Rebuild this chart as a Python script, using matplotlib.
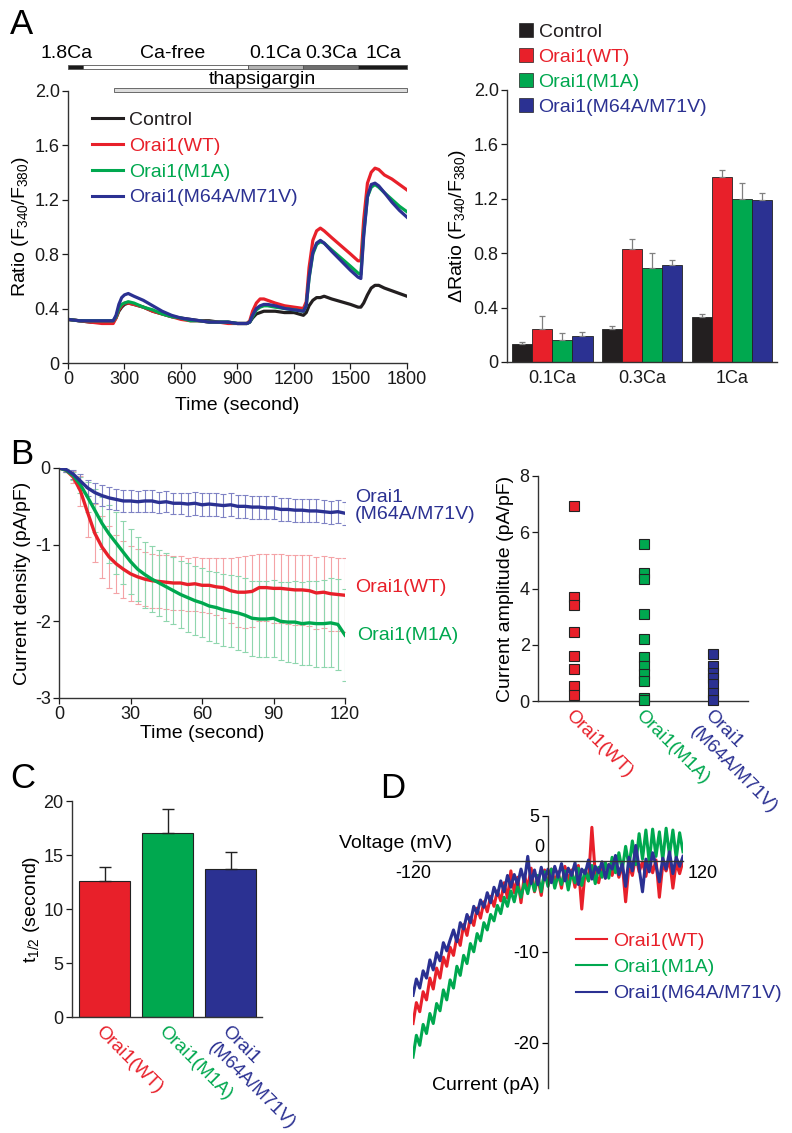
import numpy as np
import matplotlib
matplotlib.use("Agg")
import matplotlib.pyplot as plt
from matplotlib.patches import Patch
from matplotlib.lines import Line2D
from matplotlib.transforms import blended_transform_factory, ScaledTranslation

plt.rcParams['font.family'] = ['Liberation Sans', 'DejaVu Sans']
plt.rcParams['mathtext.default'] = 'regular'
plt.rcParams['axes.unicode_minus'] = False

W, H = 792, 1133

# colours
BLACK = '#231F20'
RED = '#E8202A'
GREEN = '#00A84F'
BLUE = '#2B3192'

groups = ['Control', 'Orai1(WT)', 'Orai1(M1A)', 'Orai1(M64A/M71V)']

# ---------------- panel A, traces ----------------
t_a = [0, 60, 120, 180, 240, 255, 270, 285, 300, 320, 350, 400, 450, 500, 550, 600,
       650, 700, 750, 800, 850, 900, 950, 965, 980, 1000, 1020, 1040, 1060, 1100,
       1150, 1200, 1250, 1265, 1280, 1300, 1320, 1340, 1360, 1400, 1450, 1500, 1540,
       1555, 1570, 1590, 1610, 1630, 1650, 1680, 1720, 1760, 1800]
ratio_ctrl = [0.32, 0.31, 0.30, 0.30, 0.30, 0.33, 0.38, 0.41, 0.43, 0.44, 0.43, 0.41, 0.38, 0.36,
              0.34, 0.33, 0.32, 0.31, 0.31, 0.30, 0.30, 0.29, 0.29, 0.30, 0.33, 0.36, 0.37, 0.38,
              0.38, 0.38, 0.37, 0.37, 0.35, 0.37, 0.42, 0.46, 0.48, 0.48, 0.49, 0.47, 0.45, 0.43,
              0.41, 0.41, 0.44, 0.50, 0.55, 0.57, 0.57, 0.55, 0.53, 0.51, 0.49]
ratio_wt = [0.32, 0.31, 0.30, 0.29, 0.29, 0.33, 0.39, 0.42, 0.44, 0.44, 0.43, 0.41, 0.38, 0.36,
            0.34, 0.32, 0.31, 0.31, 0.30, 0.30, 0.29, 0.29, 0.29, 0.31, 0.38, 0.44, 0.47, 0.47,
            0.46, 0.44, 0.42, 0.41, 0.40, 0.45, 0.70, 0.90, 0.97, 0.99, 0.97, 0.92, 0.86, 0.80,
            0.75, 0.75, 1.05, 1.32, 1.40, 1.43, 1.42, 1.38, 1.35, 1.31, 1.27]
ratio_m1a = [0.32, 0.31, 0.31, 0.31, 0.31, 0.34, 0.40, 0.43, 0.44, 0.45, 0.44, 0.41, 0.39, 0.36,
             0.34, 0.33, 0.31, 0.31, 0.30, 0.30, 0.30, 0.29, 0.29, 0.30, 0.34, 0.39, 0.41, 0.42,
             0.42, 0.41, 0.40, 0.39, 0.38, 0.42, 0.62, 0.80, 0.87, 0.89, 0.88, 0.83, 0.77, 0.71,
             0.66, 0.65, 0.95, 1.22, 1.29, 1.31, 1.29, 1.25, 1.20, 1.15, 1.11]
ratio_m64 = [0.32, 0.31, 0.31, 0.31, 0.31, 0.35, 0.43, 0.48, 0.50, 0.51, 0.49, 0.46, 0.42, 0.38,
             0.35, 0.33, 0.32, 0.31, 0.30, 0.30, 0.30, 0.29, 0.29, 0.30, 0.35, 0.40, 0.42, 0.43,
             0.43, 0.42, 0.40, 0.39, 0.38, 0.42, 0.63, 0.81, 0.88, 0.90, 0.88, 0.82, 0.75, 0.68,
             0.63, 0.62, 0.93, 1.22, 1.31, 1.32, 1.30, 1.25, 1.18, 1.12, 1.07]

# solution bars above trace (start, end, label, colour)
sol_start = [0, 78, 957, 1250, 1542]
sol_end = [78, 957, 1250, 1542, 1800]
sol_label = ['1.8Ca', 'Ca-free', '0.1Ca', '0.3Ca', '1Ca']
sol_label_x = [-5, 555, 1099, 1397, 1673]
sol_color = ['#1a1a1a', '#ffffff', '#b4b4b4', '#6e6e6e', '#1a1a1a']
tg_start, tg_end = 244, 1800
tg_label_x = 1030

# ---------------- panel A, bars ----------------
conc = ['0.1Ca', '0.3Ca', '1Ca']
d_ctrl = [0.13, 0.24, 0.33]
d_wt = [0.24, 0.83, 1.36]
d_m1a = [0.16, 0.69, 1.20]
d_m64 = [0.19, 0.71, 1.19]
e_ctrl = [0.017, 0.024, 0.022]
e_wt = [0.10, 0.073, 0.05]
e_m1a = [0.055, 0.11, 0.118]
e_m64 = [0.03, 0.04, 0.053]

# ---------------- panel B, time course ----------------
t_b = np.arange(0, 121, 3)
i_wt = [0, -0.03, -0.12, -0.30, -0.58, -0.85, -1.03, -1.16, -1.25, -1.32, -1.38, -1.42, -1.45,
        -1.47, -1.48, -1.49, -1.50, -1.50, -1.52, -1.51, -1.53, -1.53, -1.55, -1.56, -1.60,
        -1.62, -1.62, -1.61, -1.56, -1.56, -1.57, -1.57, -1.58, -1.59, -1.59, -1.60, -1.63,
        -1.62, -1.64, -1.65, -1.66]
i_m1a = [0, -0.03, -0.10, -0.22, -0.38, -0.55, -0.72, -0.86, -0.98, -1.10, -1.22, -1.32, -1.39,
         -1.45, -1.50, -1.55, -1.60, -1.65, -1.69, -1.73, -1.76, -1.80, -1.82, -1.85, -1.87,
         -1.89, -1.92, -1.96, -1.97, -1.97, -1.96, -2.00, -2.01, -2.01, -2.03, -2.02, -2.03,
         -2.03, -2.02, -2.04, -2.18]
i_m64 = [0, -0.02, -0.08, -0.17, -0.26, -0.32, -0.36, -0.39, -0.41, -0.43, -0.43, -0.44, -0.43,
         -0.43, -0.45, -0.44, -0.46, -0.46, -0.47, -0.46, -0.48, -0.47, -0.48, -0.49, -0.48,
         -0.50, -0.50, -0.51, -0.51, -0.52, -0.52, -0.54, -0.54, -0.55, -0.55, -0.56, -0.56,
         -0.57, -0.58, -0.57, -0.59]
s_wt = [0, 0.02, 0.08, 0.20, 0.32, 0.38, 0.40, 0.40, 0.38, 0.37, 0.36, 0.36, 0.35, 0.35, 0.35,
        0.35, 0.35, 0.35, 0.35, 0.35, 0.35, 0.36, 0.37, 0.39, 0.42, 0.46, 0.47, 0.47, 0.44,
        0.44, 0.45, 0.45, 0.45, 0.46, 0.46, 0.46, 0.47, 0.47, 0.48, 0.48, 0.48]
s_m1a = [0, 0.02, 0.05, 0.10, 0.20, 0.28, 0.34, 0.38, 0.40, 0.41, 0.42, 0.42, 0.43, 0.43, 0.43,
         0.44, 0.44, 0.44, 0.45, 0.45, 0.45, 0.46, 0.46, 0.47, 0.47, 0.48, 0.48, 0.49, 0.49,
         0.50, 0.50, 0.51, 0.52, 0.53, 0.54, 0.55, 0.56, 0.57, 0.58, 0.59, 0.60]
s_m64 = [0, 0.03, 0.06, 0.09, 0.11, 0.13, 0.14, 0.14, 0.14, 0.14, 0.14, 0.14, 0.14, 0.14, 0.14,
         0.14, 0.14, 0.14, 0.15, 0.15, 0.15, 0.15, 0.15, 0.15, 0.15, 0.15, 0.15, 0.15, 0.15,
         0.15, 0.15, 0.15, 0.15, 0.15, 0.15, 0.15, 0.15, 0.15, 0.15, 0.15, 0.15]

# ---------------- panel B, amplitudes ----------------
amp_wt = [6.95, 3.7, 3.4, 2.45, 1.6, 1.13, 0.55, 0.2]
amp_m1a = [5.6, 4.55, 4.35, 3.1, 2.2, 1.55, 1.25, 0.95, 0.7, 0.12, 0.05]
amp_m64 = [1.67, 1.25, 1.0, 0.83, 0.6, 0.3, 0.05]

# ---------------- panel C ----------------
t_half = [12.6, 17.0, 13.7]
t_half_err = [1.3, 2.25, 1.6]

# ---------------- panel D, I-V ----------------
v_d = np.arange(-120, 121, 3)
iv_wt = [-17.9, -15.6, -16.6, -14.4, -15.3, -12.9, -14.1, -11.8, -12.9, -10.6,
         -11.6, -9.5, -10.4, -8.3, -9.3, -7.0, -8.2, -6.2, -7.1, -5.2,
         -6.3, -4.5, -5.6, -3.9, -5.0, -3.3, -4.4, -2.4, -4.1, -1.1,
         -3.5, -1.8, -4.6, -1.6, -2.9, -0.8, -3.4, -1.9, -3.8, -1.0,
         -2.6, -0.9, -2.3, -1.2, -3.0, -0.6, -2.1, -1.0, -2.9, -0.5,
         -5.3, -1.1, -2.2, 3.7, -1.4, -2.4, -0.6, -1.9, -0.4, -1.6,
         -0.2, -1.8, -0.3, -4.5, -0.5, -1.6, 0.6, -1.2, -0.1, -1.7,
         0.3, -1.3, 0.1, -4.0, -0.4, -1.1, 0.2, -3.0, -0.2, -1.4,
         0.0]
iv_m1a = [-21.6, -19.2, -20.3, -18.0, -19.0, -16.8, -17.9, -15.7, -16.5, -14.2,
          -15.3, -13.1, -14.0, -11.6, -12.6, -10.4, -11.3, -9.1, -10.0, -8.0,
          -8.8, -6.8, -7.6, -5.9, -6.6, -4.9, -5.8, -4.0, -5.0, -3.3,
          -4.5, -2.8, -4.0, -2.4, -3.6, -1.9, -3.3, -1.6, -3.4, -1.2,
          -2.8, -0.9, -3.0, -1.5, -2.6, -1.1, -3.2, -1.3, -2.4, -0.8,
          -2.7, -1.0, -2.2, -0.5, -2.5, -0.7, -1.8, -0.2, -1.9, 0.4,
          -1.3, 0.9, -1.0, 1.6, -0.6, 2.2, -0.4, 3.0, 0.2, 3.4,
          -0.2, 3.5, 0.5, 3.2, 0.1, 3.6, 0.6, 3.4, 0.3, 3.1,
          1.0]
iv_m64 = [-14.8, -13.0, -14.0, -12.1, -12.9, -10.9, -12.0, -10.1, -11.0, -9.0,
          -9.9, -8.7, -7.6, -8.9, -6.8, -7.5, -5.9, -6.8, -5.0, -5.8,
          -4.3, -5.1, -3.5, -4.6, -2.9, -3.8, -2.2, -3.4, -1.6, -2.9,
          -1.5, -2.6, -0.9, -2.3, 0.5, -2.5, -1.0, -2.6, -0.7, -2.1,
          -0.9, -2.4, -0.6, -1.8, -0.3, -2.2, -0.8, -1.6, -0.2, -2.6,
          -0.9, -1.4, 0.1, -2.0, -0.6, -1.3, -0.1, -1.9, -0.4, -0.9,
          0.6, -1.5, -0.3, -2.8, 0.4, -1.1, 1.7, -0.8, -3.4, 0.2,
          -1.2, 0.9, -0.5, -2.3, 0.3, -0.9, 1.0, -1.4, 0.4, -0.6,
          0.5]

FS = 13


def rect(left, top, right, bottom):
    return [left / W, 1 - bottom / H, (right - left) / W, (bottom - top) / H]


def fx(px):
    return px / W


def fy(py):
    return 1 - py / H


def style(ax):
    for s in ['top', 'right']:
        ax.spines[s].set_visible(False)
    for s in ['left', 'bottom']:
        ax.spines[s].set_linewidth(1.0)
        ax.spines[s].set_color('#333333')
    ax.tick_params(direction='out', length=4, width=0.9, labelsize=FS, colors='#1a1a1a', pad=2)


fig = plt.figure(figsize=(W / 100, H / 100), dpi=100)

# panel letters
for letter, (px, py) in zip('ABCD', [(10, 24), (10, 454), (10, 779), (380, 788)]):
    fig.text(fx(px), fy(py), letter, fontsize=25, ha='left', va='center')

# ===== A left =====
ax = fig.add_axes(rect(68, 90.5, 407, 363))
style(ax)
for vals, col in zip([ratio_ctrl, ratio_wt, ratio_m1a, ratio_m64], [BLACK, RED, GREEN, BLUE]):
    ax.plot(t_a, vals, color=col, lw=2.3)
ax.set_xlim(0, 1800)
ax.set_ylim(0, 2.0)
ax.set_xticks(range(0, 1801, 300))
ax.set_yticks([0, 0.4, 0.8, 1.2, 1.6, 2.0])
ax.set_yticklabels(['0', '0.4', '0.8', '1.2', '1.6', '2.0'])
ax.set_xlabel('Time (second)', fontsize=FS + 1, labelpad=6)
ax.set_ylabel('Ratio (F$_{340}$/F$_{380}$)', fontsize=FS + 1)
ax.yaxis.set_label_coords(-0.108, 0.5)
tr = blended_transform_factory(ax.transData, ax.transAxes)
for s, e, lx, lab, col in zip(sol_start, sol_end, sol_label_x, sol_label, sol_color):
    ax.add_patch(plt.Rectangle((s, 1.078), e - s, 0.016, transform=tr, facecolor=col,
                               edgecolor='#555555', lw=0.6, clip_on=False))
    ax.text(lx, 1.135, lab, transform=tr, ha='center', va='center', fontsize=FS + 1)
ax.add_patch(plt.Rectangle((tg_start, 0.993), tg_end - tg_start, 0.016, transform=tr,
                           facecolor='#dddddd', edgecolor='#555555', lw=0.6, clip_on=False))
ax.text(tg_label_x, 1.04, 'thapsigargin', transform=tr, ha='center', va='center',
        fontsize=FS + 1)
h = [Line2D([], [], color=c, lw=2.2) for c in [BLACK, RED, GREEN, BLUE]]
ax.legend(h, groups, loc='upper left', bbox_to_anchor=(0.07, 0.923), frameon=False,
          fontsize=FS + 1, handlelength=1.6, handletextpad=0.3, labelspacing=0.42,
          borderpad=0, borderaxespad=0, labelcolor=[BLACK, RED, GREEN, BLUE])

# ===== A right =====
ax = fig.add_axes(rect(507, 90, 777, 362))
style(ax)
x = np.arange(len(conc))
bw = 0.225
for k, (vals, errs, col) in enumerate(zip([d_ctrl, d_wt, d_m1a, d_m64],
                                           [e_ctrl, e_wt, e_m1a, e_m64],
                                           [BLACK, RED, GREEN, BLUE])):
    pos = x + (k - 1.5) * bw
    ax.bar(pos, vals, width=bw, color=col, edgecolor='#222222', lw=0.6, label=groups[k])
    ax.errorbar(pos, vals, yerr=[np.zeros(len(vals)), errs], fmt='none', ecolor='#808080',
                elinewidth=0.9, capsize=2.5, capthick=0.9)
ax.set_xlim(-0.5, 2.5)
ax.set_ylim(0, 2.0)
ax.set_xticks(x)
ax.set_xticklabels(conc)
ax.tick_params(axis='x', length=0, pad=6)
ax.set_yticks([0, 0.4, 0.8, 1.2, 1.6, 2.0])
ax.set_yticklabels(['0', '0.4', '0.8', '1.2', '1.6', '2.0'])
ax.set_ylabel(r'$\Delta$Ratio (F$_{340}$/F$_{380}$)', fontsize=FS + 1, labelpad=4)
hp = [Patch(facecolor=c, edgecolor='#222222', lw=0.5) for c in [BLACK, RED, GREEN, BLUE]]
ax.legend(hp, groups, loc='upper left', bbox_to_anchor=(0.045, 1.245), frameon=False,
          fontsize=FS + 1, handlelength=0.7, handleheight=0.7, handletextpad=0.3,
          labelspacing=0.38, borderpad=0, borderaxespad=0,
          labelcolor=[BLACK, RED, GREEN, BLUE])

# ===== B left =====
ax = fig.add_axes(rect(59, 468, 345, 698))
style(ax)
light = {'wt': '#F4A3A6', 'm1a': '#8FD6AE', 'm64': '#7F82C4'}
for vals, errs, lc in [(i_wt, s_wt, light['wt']), (i_m1a, s_m1a, light['m1a']),
                       (i_m64, s_m64, light['m64'])]:
    ax.errorbar(t_b, vals, yerr=errs, fmt='none', ecolor=lc, elinewidth=0.8, capsize=2,
                capthick=0.8)
for vals, col in [(i_wt, RED), (i_m1a, GREEN), (i_m64, BLUE)]:
    ax.plot(t_b, vals, color=col, lw=2.4)
ax.set_xlim(0, 120)
ax.set_ylim(-3, 0)
ax.set_xticks([0, 30, 60, 90, 120])
ax.set_yticks([-3, -2, -1, 0])
ax.set_xlabel('Time (second)', fontsize=FS + 1, labelpad=1)
ax.set_ylabel('Current density (pA/pF)', fontsize=FS + 1, labelpad=3)
fig.text(fx(355), fy(506), 'Orai1\n(M64A/M71V)', color=BLUE, fontsize=FS + 1, ha='left',
         va='center', linespacing=1.0)
fig.text(fx(355), fy(587), 'Orai1(WT)', color=RED, fontsize=FS + 1, ha='left', va='center')
fig.text(fx(357), fy(635), 'Orai1(M1A)', color=GREEN, fontsize=FS + 1, ha='left', va='center')

xt_labels = ['Orai1(WT)', 'Orai1(M1A)', 'Orai1']
xt_colors = [RED, GREEN, BLUE]


def rotated_labels(ax):
    ax.set_xticks([0, 1, 2])
    ax.set_xticklabels(xt_labels, rotation=-45, ha='left', va='top', rotation_mode='anchor',
                       fontsize=FS + 0.5)
    for lab, c in zip(ax.get_xticklabels(), xt_colors):
        lab.set_color(c)
    ax.tick_params(axis='x', length=0, pad=4)
    # second line of the last label
    off = ScaledTranslation(-14 / 100, -16 / 100, fig.dpi_scale_trans)
    ax.text(2, 0, '(M64A/M71V)', rotation=-45, ha='left', va='top', rotation_mode='anchor',
            fontsize=FS + 0.5, color=BLUE,
            transform=ax.get_xaxis_transform() + ScaledTranslation(0, -4 / 72, fig.dpi_scale_trans) + off)


# ===== B right =====
ax = fig.add_axes(rect(538, 476, 748, 701))
style(ax)
for k, (vals, col) in enumerate(zip([amp_wt, amp_m1a, amp_m64], [RED, GREEN, BLUE])):
    ax.plot(np.full(len(vals), k), vals, 's', ms=6.8, mfc=col, mec='#222222', mew=0.8,
            clip_on=False, zorder=3)
ax.set_xlim(-0.52, 2.5)
ax.set_ylim(0, 8)
ax.set_yticks([0, 2, 4, 6, 8])
ax.set_ylabel('Current amplitude (pA/pF)', fontsize=FS + 1, labelpad=4)
rotated_labels(ax)

# ===== C =====
ax = fig.add_axes(rect(72, 801, 262, 1017))
style(ax)
ax.bar([0, 1, 2], t_half, width=0.81, color=[RED, GREEN, BLUE], edgecolor='#222222', lw=0.8)
ax.errorbar([0, 1, 2], t_half, yerr=[np.zeros(3), t_half_err], fmt='none', ecolor='#222222',
            elinewidth=1.0, capsize=4, capthick=1.0)
ax.set_xlim(-0.516, 2.5)
ax.set_ylim(0, 20)
ax.set_yticks([0, 5, 10, 15, 20])
ax.set_ylabel('t$_{1/2}$ (second)', fontsize=FS + 1)
ax.yaxis.set_label_coords(-0.16, 0.5)
rotated_labels(ax)

# ===== D =====
ax = fig.add_axes(rect(413, 815.5, 683, 1088))
for s in ['top', 'right']:
    ax.spines[s].set_visible(False)
ax.spines['left'].set_position(('data', 0))
ax.spines['bottom'].set_position(('data', 0))
for s in ['left', 'bottom']:
    ax.spines[s].set_linewidth(1.0)
    ax.spines[s].set_color('#333333')
for vals, col, lab in [(iv_wt, RED, groups[1]), (iv_m1a, GREEN, groups[2]),
                       (iv_m64, BLUE, groups[3])]:
    ax.plot(v_d, vals, color=col, lw=2.2, label=lab)
ax.set_xlim(-120, 120)
ax.set_ylim(-25, 5)
ax.set_xticks([])
ax.set_yticks([5, -10, -20])
ax.tick_params(axis='y', direction='out', length=4, width=0.9, labelsize=FS, pad=2)
ax.text(-3, 1.5, '0', ha='right', va='center', fontsize=FS)
ax.text(-120, -1.4, '-120', ha='center', va='center', fontsize=FS)
ax.text(124, -1.4, '120', ha='left', va='center', fontsize=FS)
fig.text(fx(452), fy(843), 'Voltage (mV)', ha='right', va='center', fontsize=FS + 1)
fig.text(fx(540), fy(1085), 'Current (pA)', ha='right', va='center', fontsize=FS + 1)
hd = [Line2D([], [], color=c, lw=1.5) for c in [RED, GREEN, BLUE]]
ax.legend(hd, groups[1:], loc='upper left', bbox_to_anchor=(0.605, 0.572), frameon=False,
          fontsize=FS + 1, handlelength=1.6, handletextpad=0.3, labelspacing=0.45,
          borderpad=0, borderaxespad=0, labelcolor=[RED, GREEN, BLUE])

fig.savefig('out.png', dpi=100)
